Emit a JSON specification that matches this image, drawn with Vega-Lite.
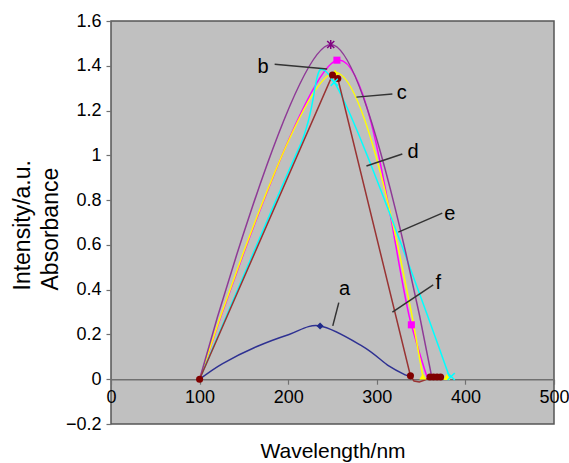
{
  "$schema": "https://vega.github.io/schema/vega-lite/v6.json",
  "width": 443,
  "height": 403,
  "autosize": {"type": "none"},
  "padding": {"left": 111, "top": 21, "right": 15, "bottom": 39},
  "background": "white",
  "config": {
    "view": {"fill": "#c0c0c0", "stroke": "#555555", "strokeWidth": 1.5},
    "font": "Liberation Sans",
    "axis": {"grid": false}
  },
  "datasets": {
    "curves": [
      {"series": "a", "x": 100, "y": 0},
      {"series": "a", "x": 126, "y": 0.07},
      {"series": "a", "x": 164, "y": 0.145},
      {"series": "a", "x": 201, "y": 0.2},
      {"series": "a", "x": 236, "y": 0.238},
      {"series": "a", "x": 284, "y": 0.147},
      {"series": "a", "x": 314, "y": 0.058},
      {"series": "a", "x": 333, "y": 0.018},
      {"series": "a", "x": 338, "y": 0.012},
      {"series": "b", "x": 100, "y": 0},
      {"series": "b", "x": 255, "y": 1.425},
      {"series": "b", "x": 339, "y": 0.243},
      {"series": "b", "x": 357, "y": 0.01},
      {"series": "c", "x": 100, "y": 0},
      {"series": "c", "x": 253, "y": 1.37},
      {"series": "c", "x": 352, "y": 0.012},
      {"series": "d", "x": 100, "y": 0},
      {"series": "d", "x": 213, "y": 1.04},
      {"series": "d", "x": 252, "y": 1.326},
      {"series": "d", "x": 382, "y": 0.01},
      {"series": "e", "x": 100, "y": 0},
      {"series": "e", "x": 248, "y": 1.495},
      {"series": "e", "x": 362, "y": 0.01}
    ],
    "straight": [
      {"series": "f", "x": 100, "y": 0},
      {"series": "f", "x": 250, "y": 1.359},
      {"series": "f", "x": 256, "y": 1.343},
      {"series": "f", "x": 338, "y": 0.015},
      {"series": "f", "x": 342, "y": -0.008},
      {"series": "f", "x": 348, "y": -0.012},
      {"series": "f", "x": 354, "y": -0.004},
      {"series": "f", "x": 360, "y": 0.01},
      {"series": "f", "x": 364, "y": 0.01},
      {"series": "f", "x": 368, "y": 0.01},
      {"series": "f", "x": 372, "y": 0.01}
    ],
    "markers": [
      {"series": "a", "x": 236, "y": 0.238},
      {"series": "b", "x": 255, "y": 1.425},
      {"series": "b", "x": 339, "y": 0.243},
      {"series": "c", "x": 253, "y": 1.37},
      {"series": "c", "x": 352, "y": 0.012},
      {"series": "c", "x": 379, "y": 0.01},
      {"series": "d", "x": 252, "y": 1.326},
      {"series": "d", "x": 384, "y": 0.012},
      {"series": "e", "x": 248, "y": 1.495},
      {"series": "f", "x": 100, "y": 0},
      {"series": "f", "x": 250, "y": 1.359},
      {"series": "f", "x": 256, "y": 1.343},
      {"series": "f", "x": 338, "y": 0.015},
      {"series": "f", "x": 360, "y": 0.01},
      {"series": "f", "x": 364, "y": 0.01},
      {"series": "f", "x": 368, "y": 0.01},
      {"series": "f", "x": 372, "y": 0.01}
    ],
    "pointers": [
      {"label": "a", "x": 250.3, "y": 0.238, "x2": 257.1, "y2": 0.342},
      {"label": "b", "x": 184.7, "y": 1.4065, "x2": 244.0, "y2": 1.3855},
      {"label": "c", "x": 277.0, "y": 1.26, "x2": 317.6, "y2": 1.274},
      {"label": "d", "x": 288.3, "y": 0.952, "x2": 328.8, "y2": 1.006},
      {"label": "e", "x": 324.3, "y": 0.657, "x2": 373.9, "y2": 0.742},
      {"label": "f", "x": 317.6, "y": 0.3, "x2": 363.7, "y2": 0.421}
    ],
    "labels": [
      {"label": "a", "x": 263.5, "y": 0.376},
      {"label": "b", "x": 171.7, "y": 1.368},
      {"label": "c", "x": 328.3, "y": 1.25},
      {"label": "d", "x": 341.0, "y": 0.9875},
      {"label": "e", "x": 382.3, "y": 0.712},
      {"label": "f", "x": 369.4, "y": 0.403}
    ]
  },
  "encoding": {
    "x": {
      "field": "x",
      "type": "quantitative",
      "scale": {"domain": [0, 500], "nice": false, "zero": false},
      "axis": {
        "title": "Wavelength/nm",
        "offset": -44.8,
        "values": [0, 100, 200, 300, 400, 500],
        "domainColor": "#707070",
        "domainWidth": 1.5,
        "tickColor": "#707070",
        "tickWidth": 1.2,
        "tickSize": 5,
        "labelFontSize": 18,
        "labelColor": "black",
        "labelPadding": 4,
        "labelFlush": false,
        "labelOverlap": false,
        "titleFontSize": 21,
        "titleFontWeight": "normal",
        "titleColor": "black",
        "titleBaseline": "middle",
        "titleY": 72
      }
    },
    "y": {
      "field": "y",
      "type": "quantitative",
      "scale": {"domain": [-0.2, 1.6], "nice": false, "zero": false},
      "axis": {
        "title": ["Intensity/a.u.", "Absorbance"],
        "values": [-0.2, 0, 0.2, 0.4, 0.6, 0.8, 1, 1.2, 1.4, 1.6],
        "format": "~g",
        "domain": false,
        "tickColor": "#707070",
        "tickWidth": 1.2,
        "tickSize": 5,
        "labelFontSize": 18,
        "labelColor": "black",
        "labelPadding": 5,
        "labelFlush": false,
        "labelOverlap": false,
        "titleFontSize": 23,
        "titleFontWeight": "normal",
        "titleColor": "black",
        "titleAngle": -90,
        "titleAlign": "left",
        "titleBaseline": "middle",
        "titleLineHeight": 28,
        "titleX": -89,
        "titleY": 269
      }
    }
  },
  "layer": [
    {
      "data": {"name": "curves"},
      "mark": {"type": "line", "interpolate": "cardinal", "tension": 0, "strokeWidth": 1.5},
      "encoding": {
        "color": {
          "field": "series",
          "type": "nominal",
          "scale": {"domain": ["a", "b", "c", "d", "e", "f"], "range": ["#2e3192", "#ff00ff", "#ffff00", "#00ffff", "#8e3a96", "#993333"]},
          "legend": null
        }
      }
    },
    {
      "data": {"name": "straight"},
      "mark": {"type": "line", "interpolate": "linear", "strokeWidth": 1.5},
      "encoding": {
        "color": {"field": "series", "type": "nominal", "legend": null}
      }
    },
    {
      "data": {"name": "pointers"},
      "mark": {"type": "rule", "color": "#333333", "strokeWidth": 1.5},
      "encoding": {
        "x2": {"field": "x2"},
        "y2": {"field": "y2"}
      }
    },
    {
      "data": {"name": "markers"},
      "transform": [{"filter": {"field": "series", "oneOf": ["a", "b", "c", "f"]}}],
      "mark": {"type": "point", "filled": true, "size": 50, "opacity": 1},
      "encoding": {
        "fill": {
          "field": "series",
          "type": "nominal",
          "scale": {"domain": ["a", "b", "c", "d", "e", "f"], "range": ["#1f2a8a", "#ff00ff", "#ffff00", "#00ffff", "#800080", "#800000"]},
          "legend": null
        },
        "shape": {
          "field": "series",
          "type": "nominal",
          "scale": {"domain": ["a", "b", "c", "d", "e", "f"], "range": ["diamond", "square", "triangle-up", "M-1,-1L1,1M-1,1L1,-1", "M-1,-1L1,1M-1,1L1,-1M0,-1.3L0,1.3", "circle"]},
          "legend": null
        }
      }
    },
    {
      "data": {"name": "markers"},
      "transform": [{"filter": {"field": "series", "oneOf": ["d", "e"]}}],
      "mark": {"type": "point", "filled": false, "size": 50, "strokeWidth": 1.5, "opacity": 1},
      "encoding": {
        "stroke": {
          "field": "series",
          "type": "nominal",
          "scale": {"domain": ["a", "b", "c", "d", "e", "f"], "range": ["#1f2a8a", "#ff00ff", "#ffff00", "#00ffff", "#800080", "#800000"]},
          "legend": null
        },
        "shape": {"field": "series", "type": "nominal", "legend": null}
      }
    },
    {
      "data": {"name": "labels"},
      "mark": {"type": "text", "fontSize": 20, "align": "center", "baseline": "alphabetic", "color": "black"},
      "encoding": {
        "text": {"field": "label"}
      }
    }
  ]
}
